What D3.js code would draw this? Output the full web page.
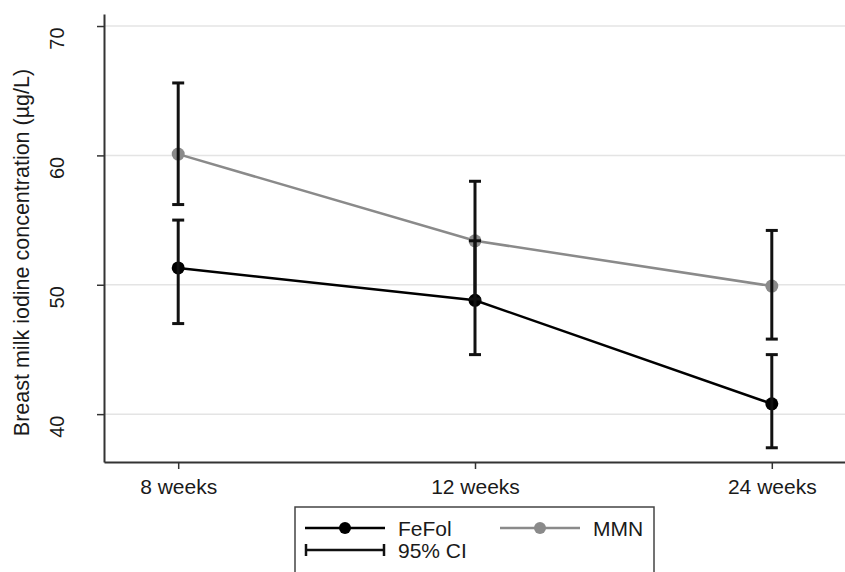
<!DOCTYPE html>
<html>
<head>
<meta charset="utf-8">
<script src="https://cdn.jsdelivr.net/npm/d3@7"></script>
<style>
  body { margin: 0; background: #fff; }
  svg { display: block; font-family: "Liberation Sans", Arial, sans-serif; }
</style>
</head>
<body>
<svg id="chart" width="845" height="572"></svg>
<script>
// categories and values
const weeks = ["8 weeks", "12 weeks", "24 weeks"];
const yTicks = [40, 50, 60, 70];

const fefolMean = [51.3, 48.8, 40.8];
const fefolLow = [47.0, 44.6, 37.4];
const fefolHigh = [55.0, 53.4, 44.6];

const mmnMean = [60.1, 53.4, 49.9];
const mmnLow = [56.2, 48.9, 45.8];
const mmnHigh = [65.6, 58.0, 54.2];

const svg = d3.select("#chart");

const plotLeft = 104, plotRight = 846, plotTop = 14, plotBottom = 462;

const x = d3.scalePoint().domain(weeks).range([plotLeft, plotRight]).padding(0.25);
const y = d3.scaleLinear().domain([36.3, 70.93]).range([plotBottom, plotTop]);

// gridlines
svg.append("g")
  .selectAll("line")
  .data(yTicks)
  .enter()
  .append("line")
  .attr("x1", plotLeft)
  .attr("x2", 845)
  .attr("y1", d => y(d))
  .attr("y2", d => y(d))
  .attr("stroke", "#e4e4e4")
  .attr("stroke-width", 1.5);

// y axis
const yAxis = svg.append("g")
  .attr("transform", `translate(${plotLeft},0)`)
  .call(d3.axisLeft(y).tickValues(yTicks).tickSize(7).tickSizeOuter(0).tickFormat(d3.format("d")));
yAxis.select(".domain").attr("stroke", "#333").attr("stroke-width", 2);
yAxis.selectAll(".tick line").attr("stroke", "#333").attr("stroke-width", 1.5);
yAxis.selectAll(".tick text")
  .attr("x", 0).attr("y", 0).attr("dy", null)
  .attr("text-anchor", "middle")
  .attr("transform", "translate(-40,12) rotate(-90)")
  .attr("fill", "#1a1a1a")
  .style("font-size", "20px");

// x axis
const xAxis = svg.append("g")
  .attr("transform", `translate(0,${plotBottom})`)
  .call(d3.axisBottom(x).tickSize(7).tickSizeOuter(0));
xAxis.select(".domain").attr("stroke", "#333").attr("stroke-width", 2);
xAxis.selectAll(".tick line").attr("stroke", "#333").attr("stroke-width", 1.5);
xAxis.selectAll(".tick text")
  .attr("y", 32).attr("dy", null)
  .attr("fill", "#1a1a1a")
  .style("font-size", "21px");

// y axis title
svg.append("text")
  .attr("transform", `translate(29,${(65 + 440) / 2}) rotate(-90)`)
  .attr("text-anchor", "middle")
  .attr("fill", "#1a1a1a")
  .style("font-size", "21.5px")
  .text("Breast milk iodine concentration (\u00b5g/L)");

const series = [
  { mean: mmnMean, low: mmnLow, high: mmnHigh, color: "#8a8a8a" },
  { mean: fefolMean, low: fefolLow, high: fefolHigh, color: "#000" }
];

const line = d3.line().x((d, i) => x(weeks[i])).y(d => y(d));

series.forEach(s => {
  svg.append("path")
    .datum(s.mean)
    .attr("d", line)
    .attr("fill", "none")
    .attr("stroke", s.color)
    .attr("stroke-width", 2.5);
  svg.append("g")
    .selectAll("circle")
    .data(s.mean)
    .enter()
    .append("circle")
    .attr("cx", (d, i) => x(weeks[i]))
    .attr("cy", d => y(d))
    .attr("r", 6.5)
    .attr("fill", s.color);
});

// confidence intervals drawn on top
const cap = 6;
series.forEach(s => {
  const g = svg.append("g").attr("stroke", "#111").attr("stroke-width", 3);
  weeks.forEach((w, i) => {
    const cx = x(w);
    g.append("line").attr("x1", cx).attr("x2", cx).attr("y1", y(s.low[i])).attr("y2", y(s.high[i]));
    g.append("line").attr("x1", cx - cap).attr("x2", cx + cap).attr("y1", y(s.low[i])).attr("y2", y(s.low[i]));
    g.append("line").attr("x1", cx - cap).attr("x2", cx + cap).attr("y1", y(s.high[i])).attr("y2", y(s.high[i]));
  });
});

// legend
const lg = svg.append("g");
lg.append("rect")
  .attr("x", 295).attr("y", 507).attr("width", 359).attr("height", 80)
  .attr("fill", "#fff").attr("stroke", "#444").attr("stroke-width", 1.5);

const legendItems = [
  { label: "FeFol", color: "#000", x0: 305, ty: 528 },
  { label: "MMN", color: "#8a8a8a", x0: 500, ty: 528 }
];
legendItems.forEach(d => {
  lg.append("line").attr("x1", d.x0).attr("x2", d.x0 + 80).attr("y1", d.ty).attr("y2", d.ty)
    .attr("stroke", d.color).attr("stroke-width", 2.5);
  lg.append("circle").attr("cx", d.x0 + 40).attr("cy", d.ty).attr("r", 6).attr("fill", d.color);
  lg.append("text").attr("x", d.x0 + 93).attr("y", d.ty + 8)
    .attr("fill", "#1a1a1a").style("font-size", "21px").text(d.label);
});

const ciY = 550;
lg.append("line").attr("x1", 305).attr("x2", 385).attr("y1", ciY).attr("y2", ciY).attr("stroke", "#111").attr("stroke-width", 2.5);
lg.append("line").attr("x1", 306).attr("x2", 306).attr("y1", ciY - 6).attr("y2", ciY + 6).attr("stroke", "#111").attr("stroke-width", 2.5);
lg.append("line").attr("x1", 384).attr("x2", 384).attr("y1", ciY - 6).attr("y2", ciY + 6).attr("stroke", "#111").attr("stroke-width", 2.5);
lg.append("text").attr("x", 398).attr("y", ciY + 8)
  .attr("fill", "#1a1a1a").style("font-size", "21px").text("95% CI");
</script>
</body>
</html>
